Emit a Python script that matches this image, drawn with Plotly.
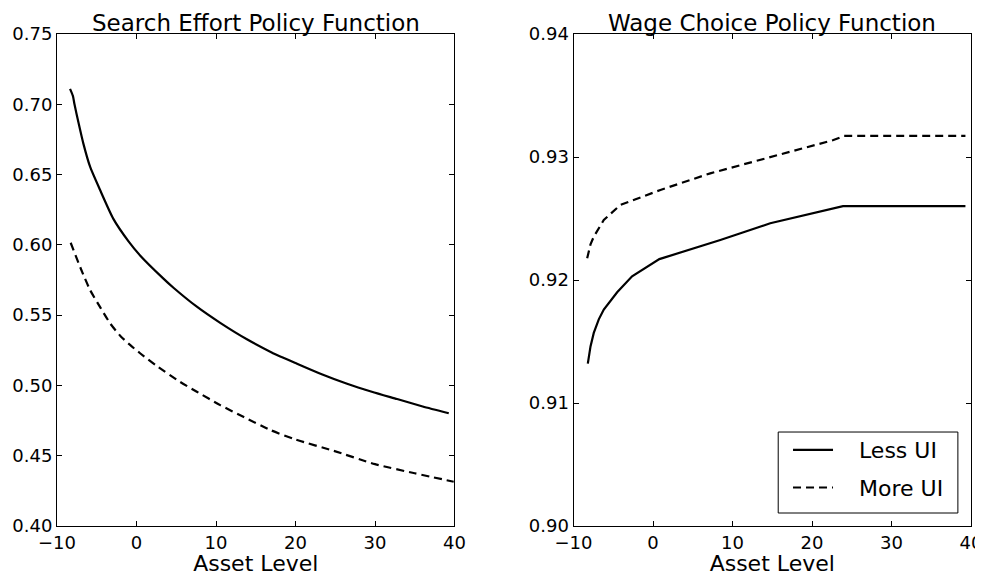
import plotly.graph_objects as go
from plotly.subplots import make_subplots

# Search effort policy (left)
effort_less_x = [-8.36, -8.0, -7.8, -7.3, -6.69, -5.84, -4.58, -2.91, -1.0, 0.45, 3.39, 4.65, 7.59, 10.53, 13.89, 17.0, 20.19, 23.3, 26.49, 29.6, 32.78, 36.0, 39.28]
effort_less_y = [0.711, 0.706, 0.700, 0.687, 0.6722, 0.6556, 0.639, 0.6185, 0.6025, 0.5925, 0.576, 0.5695, 0.556, 0.5445, 0.5328, 0.5235, 0.5155, 0.508, 0.5012, 0.4955, 0.4903, 0.485, 0.4802]
effort_more_x = [-8.28, -7.0, -5.84, -4.5, -3.32, -2.0, -0.81, 0.45, 2.5, 5.49, 7.59, 10.53, 13.5, 16.83, 20.0, 24.8, 30.0, 35.0, 39.9]
effort_more_y = [0.6015, 0.583, 0.5679, 0.555, 0.5442, 0.535, 0.5288, 0.5229, 0.514, 0.5025, 0.4955, 0.486, 0.4775, 0.4683, 0.4615, 0.4535, 0.444, 0.4375, 0.4315]

# Wage choice policy (right)
wage_less_x = [-8.2, -7.86, -7.45, -6.82, -6.19, -4.51, -2.63, 0.8, 8.47, 14.75, 23.9, 39.3]
wage_less_y = [0.9132, 0.9146, 0.9157, 0.9168, 0.9176, 0.9190, 0.9203, 0.9217, 0.92325, 0.92461, 0.92600, 0.92600]
wage_more_x = [-8.28, -7.86, -7.45, -6.19, -4.1, 0.93, 7.2, 13.5, 22.7, 24.0, 39.3]
wage_more_y = [0.92176, 0.9229, 0.92352, 0.92488, 0.9261, 0.92732, 0.92867, 0.92976, 0.93138, 0.93171, 0.93171]

x_ticks = [-10, 0, 10, 20, 30, 40]
x_tick_labels = ["\u221210", "0", "10", "20", "30", "40"]
left_y_ticks = [0.40, 0.45, 0.50, 0.55, 0.60, 0.65, 0.70, 0.75]
right_y_ticks = [0.90, 0.91, 0.92, 0.93, 0.94]

FONT = "DejaVu Sans"
dash = "8px,5px"
LW = 2.2
NB = "\u00a0\u00a0\u00a0"

fig = make_subplots(rows=1, cols=2, horizontal_spacing=0.1302)

fig.add_trace(go.Scatter(x=effort_less_x, y=effort_less_y, mode="lines",
                         line=dict(color="black", width=LW, shape="spline", smoothing=0.6),
                         showlegend=False), row=1, col=1)
fig.add_trace(go.Scatter(x=effort_more_x, y=effort_more_y, mode="lines",
                         line=dict(color="black", width=LW, dash=dash, shape="spline", smoothing=0.6),
                         showlegend=False), row=1, col=1)
fig.add_trace(go.Scatter(x=wage_less_x, y=wage_less_y, mode="lines", name=NB + "Less UI",
                         legendgroup="a", line=dict(color="black", width=LW)), row=1, col=2)
fig.add_trace(go.Scatter(x=wage_more_x, y=wage_more_y, mode="lines", name=NB + "More UI",
                         legendgroup="b", line=dict(color="black", width=LW, dash=dash)), row=1, col=2)

axis_common = dict(showline=True, linecolor="black", linewidth=1, mirror="allticks",
                   ticks="inside", ticklen=5, tickcolor="black", showgrid=False, zeroline=False,
                   automargin=False,
                   tickfont=dict(family=FONT, size=18, color="black"))

fig.update_xaxes(range=[-10, 40], tickvals=x_ticks, ticktext=x_tick_labels,
                 title=dict(text="Asset Level", font=dict(family=FONT, size=22, color="black"), standoff=2),
                 **axis_common)
fig.update_yaxes(range=[0.40, 0.75], tickvals=left_y_ticks,
                 ticktext=[f"{v:.2f}" for v in left_y_ticks], row=1, col=1, **axis_common)
fig.update_yaxes(range=[0.90, 0.94], tickvals=right_y_ticks,
                 ticktext=[f"{v:.2f}" for v in right_y_ticks], row=1, col=2, **axis_common)

fig.update_layout(
    width=975, height=568,
    margin=dict(l=49, r=12, t=26, b=50),
    paper_bgcolor="white", plot_bgcolor="white",
    font=dict(family=FONT, color="black"),
    legend=dict(x=0.7998, y=0.197, xanchor="left", yanchor="top",
                borderwidth=0, bgcolor="rgba(0,0,0,0)",
                font=dict(family=FONT, size=22, color="black"),
                traceorder="grouped", tracegroupgap=6, itemwidth=40),
    shapes=[
        dict(type="rect", xref="x2 domain", yref="y2 domain", x0=0.515, x1=0.967,
             y0=0.0264, y1=0.191, line=dict(color="black", width=1), fillcolor="white",
             layer="above"),
    ],
    annotations=[
        dict(text="Search Effort Policy Function", xref="x domain", yref="paper", x=0.5, y=1,
             yshift=-4, xanchor="center", yanchor="bottom", showarrow=False,
             font=dict(family=FONT, size=23, color="black")),
        dict(text="Wage Choice Policy Function", xref="x2 domain", yref="paper", x=0.5, y=1,
             yshift=-4, xanchor="center", yanchor="bottom", showarrow=False,
             font=dict(family=FONT, size=23, color="black")),
    ],
)

fig.write_html("out.html")
